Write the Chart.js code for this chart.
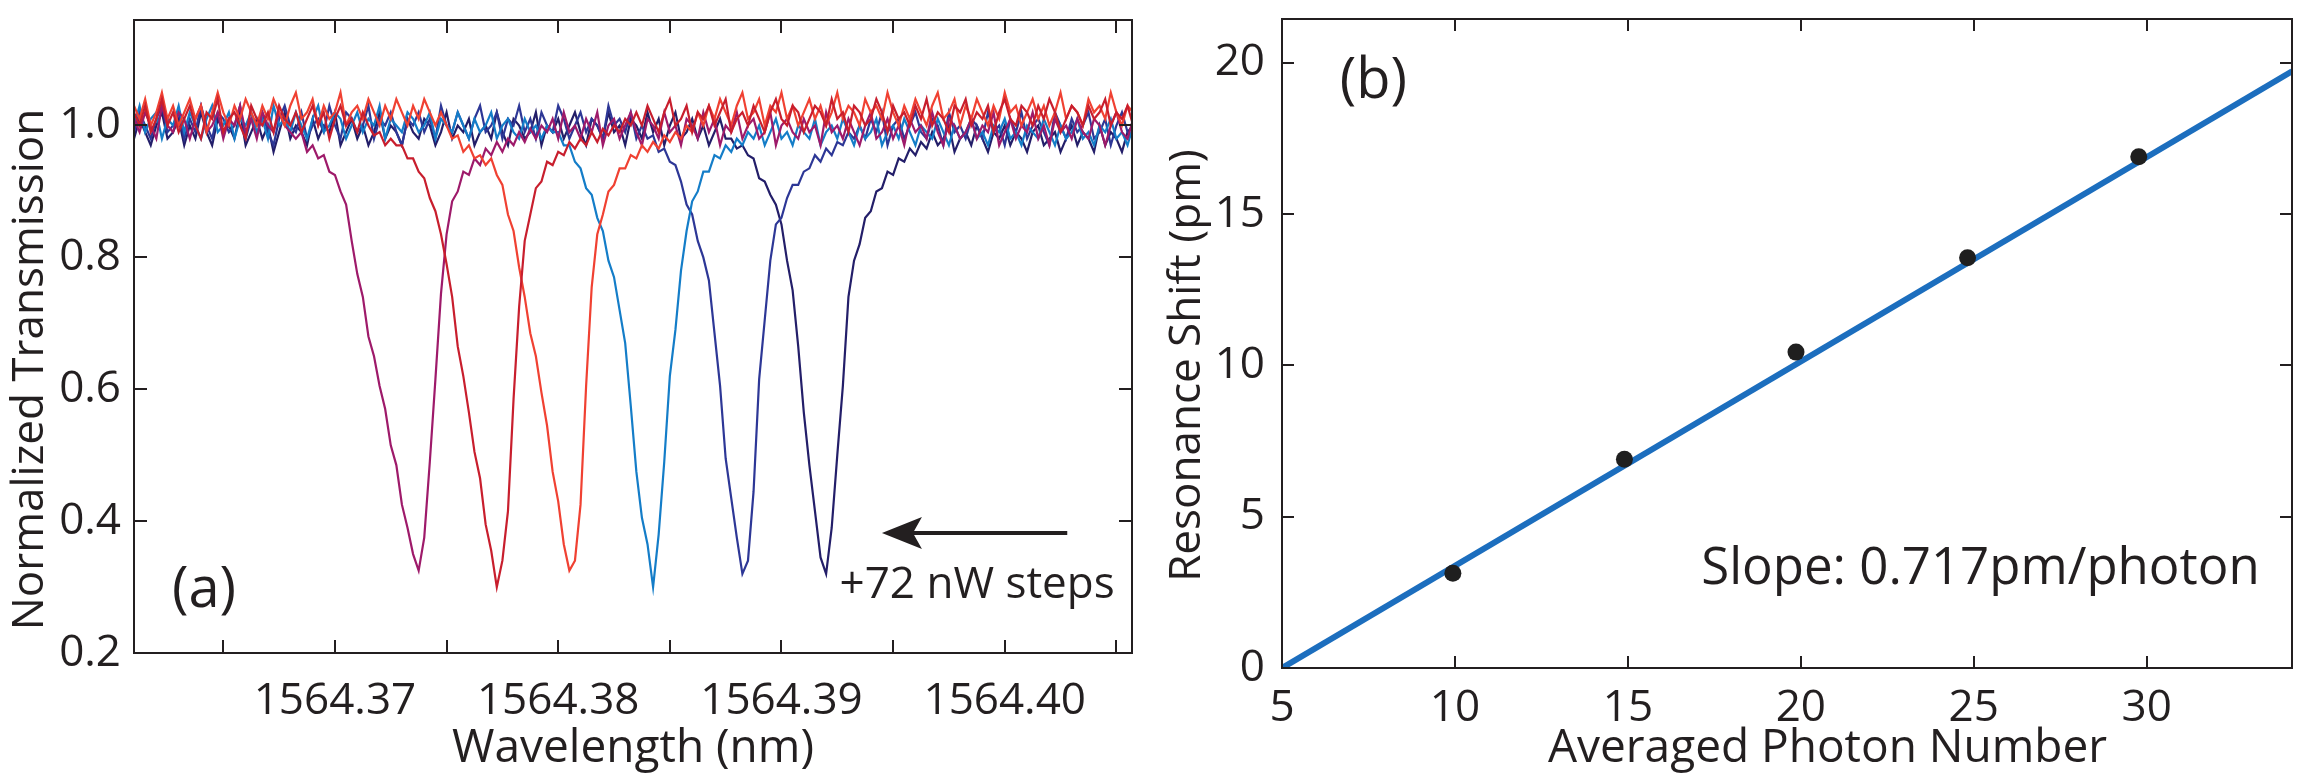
<!DOCTYPE html>
<html>
<head>
<meta charset="utf-8">
<script src="https://cdn.jsdelivr.net/npm/chart.js@4.4.1/dist/chart.umd.min.js"></script>
<style>
html,body{margin:0;padding:0;background:#fff;}
#wrap{position:relative;width:2303px;height:782px;overflow:hidden;}
canvas{position:absolute;top:0;}
#left{left:0;}
#right{left:1160px;}
</style>
</head>
<body>
<div id="wrap">
  <canvas id="left" width="1160" height="782"></canvas>
  <canvas id="right" width="1143" height="782"></canvas>
</div>
<script>
// ---- panel (a): transmission spectra, one trace per pump power step ----
const wavelength = [
  1564.36100,1564.36125,1564.36150,1564.36175,1564.36200,1564.36225,1564.36250,1564.36275,
  1564.36300,1564.36325,1564.36350,1564.36375,1564.36400,1564.36425,1564.36450,1564.36475,
  1564.36500,1564.36525,1564.36550,1564.36575,1564.36600,1564.36625,1564.36650,1564.36675,
  1564.36700,1564.36725,1564.36750,1564.36775,1564.36800,1564.36825,1564.36850,1564.36875,
  1564.36900,1564.36925,1564.36950,1564.36975,1564.37000,1564.37025,1564.37050,1564.37075,
  1564.37100,1564.37125,1564.37150,1564.37175,1564.37200,1564.37225,1564.37250,1564.37275,
  1564.37300,1564.37325,1564.37350,1564.37375,1564.37400,1564.37425,1564.37450,1564.37475,
  1564.37500,1564.37525,1564.37550,1564.37575,1564.37600,1564.37625,1564.37650,1564.37675,
  1564.37700,1564.37725,1564.37750,1564.37775,1564.37800,1564.37825,1564.37850,1564.37875,
  1564.37900,1564.37925,1564.37950,1564.37975,1564.38000,1564.38025,1564.38050,1564.38075,
  1564.38100,1564.38125,1564.38150,1564.38175,1564.38200,1564.38225,1564.38250,1564.38275,
  1564.38300,1564.38325,1564.38350,1564.38375,1564.38400,1564.38425,1564.38450,1564.38475,
  1564.38500,1564.38525,1564.38550,1564.38575,1564.38600,1564.38625,1564.38650,1564.38675,
  1564.38700,1564.38725,1564.38750,1564.38775,1564.38800,1564.38825,1564.38850,1564.38875,
  1564.38900,1564.38925,1564.38950,1564.38975,1564.39000,1564.39025,1564.39050,1564.39075,
  1564.39100,1564.39125,1564.39150,1564.39175,1564.39200,1564.39225,1564.39250,1564.39275,
  1564.39300,1564.39325,1564.39350,1564.39375,1564.39400,1564.39425,1564.39450,1564.39475,
  1564.39500,1564.39525,1564.39550,1564.39575,1564.39600,1564.39625,1564.39650,1564.39675,
  1564.39700,1564.39725,1564.39750,1564.39775,1564.39800,1564.39825,1564.39850,1564.39875,
  1564.39900,1564.39925,1564.39950,1564.39975,1564.40000,1564.40025,1564.40050,1564.40075,
  1564.40100,1564.40125,1564.40150,1564.40175,1564.40200,1564.40225,1564.40250,1564.40275,
  1564.40300,1564.40325,1564.40350,1564.40375,1564.40400,1564.40425,1564.40450,1564.40475,
  1564.40500,1564.40525,1564.40550,1564.40575,1564.40600
];

// step 6 (highest power), dip near 1564.3737
const transMagenta = [
  1.01,0.99,1.02,1.00,0.98,1.03,1.00,0.99,1.02,1.01,
  0.98,1.01,1.03,0.99,1.00,1.02,0.98,1.01,1.00,1.03,
  0.99,1.01,0.98,1.02,1.00,0.99,1.02,1.00,0.99,0.98,
  0.99,0.96,0.97,0.95,0.955,0.93,0.925,0.90,0.88,0.825,
  0.775,0.74,0.68,0.65,0.605,0.57,0.515,0.485,0.425,0.39,
  0.35,0.325,0.375,0.49,0.615,0.745,0.835,0.885,0.90,0.93,
  0.925,0.95,0.94,0.965,0.955,0.975,0.96,0.98,0.97,0.99,
  0.975,0.995,0.98,1.00,0.99,1.01,0.98,1.02,0.99,1.00,
  0.98,1.01,0.99,1.02,0.97,1.00,1.01,0.98,1.00,1.02,
  0.99,0.97,1.01,1.00,0.98,1.02,0.99,1.00,0.97,1.01,
  1.00,0.98,1.02,0.99,1.01,0.97,1.00,0.99,1.02,0.98,
  1.00,1.01,0.98,0.99,1.02,0.97,1.00,1.01,0.99,0.98,
  1.01,0.99,1.00,0.97,1.02,0.99,1.00,0.98,1.01,0.99,
  0.97,1.00,1.02,0.98,0.99,1.01,0.98,1.00,0.97,1.01,
  0.99,1.00,0.98,1.02,0.99,0.97,1.01,1.00,0.98,0.99,
  1.01,0.98,1.00,0.99,1.02,0.97,0.99,1.01,0.98,1.00,
  0.99,1.02,0.98,1.00,0.97,1.01,0.99,1.00,0.98,1.01,
  0.99,0.98,1.01,1.00,0.97,1.00,1.02,0.99,0.98,1.01,1.00
];

// step 5, dip near 1564.3772
const transCrimson = [
  1.02,1.00,1.03,0.99,1.01,1.04,1.00,1.02,0.99,1.01,
  1.03,1.00,0.98,1.02,1.01,1.04,0.99,1.01,1.02,1.00,
  0.98,1.03,1.01,1.00,1.02,0.99,1.03,1.01,1.00,1.02,
  0.99,1.01,1.03,1.00,1.02,0.98,1.01,1.03,1.00,1.01,
  0.99,1.02,1.00,0.985,0.99,0.97,0.98,0.97,0.97,0.95,
  0.95,0.93,0.92,0.89,0.87,0.835,0.79,0.74,0.665,0.62,
  0.565,0.505,0.465,0.395,0.355,0.30,0.34,0.415,0.585,0.725,
  0.825,0.865,0.905,0.915,0.945,0.94,0.96,0.955,0.975,0.965,
  0.98,0.97,0.99,0.975,0.995,0.985,1.00,0.99,1.01,1.00,
  1.02,1.00,1.03,1.01,0.99,1.02,1.04,1.00,1.01,1.03,
  0.99,1.02,1.01,1.03,1.00,1.02,1.04,0.99,1.01,1.02,
  1.00,1.03,1.01,0.99,1.02,1.04,1.01,1.00,1.03,1.02,
  0.99,1.01,1.03,1.02,1.00,1.04,1.01,1.02,0.99,1.03,
  1.02,1.00,1.01,1.04,1.02,0.99,1.03,1.01,1.02,1.00,
  1.03,1.01,1.04,1.00,1.02,1.01,0.99,1.03,1.02,1.04,
  1.00,1.02,1.01,1.03,0.99,1.02,1.04,1.01,1.00,1.03,
  1.02,1.00,1.03,1.01,1.04,1.02,0.99,1.01,1.03,1.02,
  1.00,1.03,1.01,1.02,1.04,1.00,1.02,1.01,1.03,1.00,1.02
];

// step 4, dip near 1564.3806
const transRed = [
  1.03,1.01,1.04,1.00,1.02,1.05,1.01,1.03,1.00,1.02,
  1.04,1.01,1.03,0.99,1.02,1.05,1.02,1.00,1.03,1.01,
  1.04,1.02,1.00,1.03,1.01,1.04,1.02,1.00,1.03,1.05,
  1.01,1.02,1.04,1.00,1.03,1.01,1.02,1.05,1.00,1.02,
  1.03,1.01,1.04,1.02,1.00,1.03,1.01,1.04,1.02,1.00,
  1.03,1.01,1.04,1.02,1.00,1.02,1.00,0.98,0.985,0.96,
  0.97,0.95,0.955,0.94,0.95,0.925,0.91,0.865,0.84,0.785,
  0.74,0.685,0.65,0.595,0.545,0.475,0.43,0.365,0.325,0.34,
  0.425,0.605,0.755,0.835,0.865,0.90,0.91,0.935,0.935,0.955,
  0.95,0.97,0.96,0.975,0.965,0.985,0.975,0.99,0.98,1.00,
  0.99,1.02,1.00,1.03,1.01,1.04,1.02,1.00,1.03,1.05,
  1.01,1.02,1.04,1.00,1.03,1.02,1.05,1.01,1.03,1.00,
  1.02,1.04,1.01,1.03,1.00,1.02,1.05,1.01,1.03,1.02,
  1.00,1.04,1.02,1.03,1.01,1.05,1.02,1.00,1.03,1.01,
  1.04,1.02,1.00,1.03,1.05,1.01,1.02,1.04,1.00,1.03,
  1.01,1.04,1.02,1.00,1.03,1.01,1.05,1.02,1.03,1.00,
  1.02,1.04,1.01,1.03,1.00,1.02,1.05,1.01,1.03,1.02,
  1.00,1.04,1.02,1.03,1.01,1.05,1.02,1.00,1.03,1.02,1.04
];

// step 3, dip near 1564.3843
const transSky = [
  1.00,1.03,0.99,1.01,1.02,0.98,1.01,1.00,1.03,0.99,
  1.02,1.00,0.98,1.01,1.03,0.99,1.00,1.02,0.98,1.01,
  1.00,1.02,0.99,1.01,0.98,1.03,1.00,1.01,0.99,1.02,
  1.00,0.98,1.01,1.03,0.99,1.00,1.02,1.01,0.98,1.00,
  1.02,0.99,1.01,1.00,1.03,0.98,1.01,1.00,0.99,1.02,
  1.01,0.99,1.00,1.02,0.98,1.01,1.00,0.99,1.02,1.00,
  0.98,1.01,0.99,1.00,1.02,0.98,1.00,1.01,0.99,0.98,
  1.01,0.99,1.00,0.98,1.00,0.99,0.99,0.97,0.97,0.945,
  0.935,0.905,0.895,0.86,0.84,0.795,0.77,0.72,0.67,0.575,
  0.475,0.405,0.365,0.30,0.38,0.49,0.62,0.69,0.78,0.84,
  0.885,0.90,0.93,0.93,0.955,0.95,0.97,0.96,0.98,0.97,
  0.99,0.98,1.00,0.97,0.99,1.01,0.98,0.99,0.97,1.00,
  0.99,0.98,1.01,0.97,0.99,1.00,0.98,1.01,0.99,0.97,
  1.00,0.98,0.99,1.01,0.97,0.99,1.00,0.98,1.01,0.99,
  0.97,1.00,0.99,0.98,1.01,0.99,0.97,1.00,0.98,0.99,
  1.01,0.98,0.99,0.97,1.00,0.99,1.01,0.98,0.99,0.97,
  1.00,0.99,0.98,1.01,0.99,0.97,1.00,0.98,0.99,1.01,
  0.98,0.99,0.97,1.00,0.99,1.01,0.98,0.99,0.97,1.00,0.99
];

// step 2, dip near 1564.3883
const transNavy = [
  0.99,1.02,1.00,0.98,1.01,1.03,0.99,1.00,1.02,0.98,
  1.01,0.99,1.03,1.00,0.98,1.02,1.01,0.99,1.00,1.03,
  0.98,1.01,1.00,1.02,0.99,0.97,1.01,1.03,1.00,0.99,
  1.02,0.98,1.00,1.01,0.99,1.03,1.00,0.98,1.02,1.01,
  0.99,1.00,1.03,0.98,1.01,1.00,1.02,0.99,0.97,1.01,
  1.00,1.02,0.99,1.01,0.98,1.03,1.00,0.99,1.02,1.00,
  0.98,1.01,1.03,0.99,1.00,1.02,0.98,1.01,1.00,1.03,
  0.99,1.01,0.98,1.02,1.00,0.99,1.03,1.01,0.98,1.00,
  1.02,0.99,1.01,1.00,0.98,1.03,1.00,1.01,0.99,1.02,
  0.98,1.00,0.98,0.985,0.96,0.965,0.945,0.94,0.915,0.88,
  0.865,0.825,0.80,0.765,0.685,0.605,0.495,0.435,0.375,0.32,
  0.34,0.445,0.615,0.705,0.795,0.85,0.86,0.89,0.91,0.91,
  0.93,0.935,0.955,0.945,0.965,0.955,0.975,0.97,0.99,0.98,
  1.00,0.98,1.01,0.99,1.02,0.97,1.00,1.01,0.98,1.00,
  1.02,0.99,0.98,1.01,1.00,0.97,1.02,0.99,1.00,0.98,
  1.01,1.00,0.98,1.02,0.99,1.00,0.97,1.01,0.99,1.02,
  0.98,1.00,1.01,0.99,0.97,1.02,1.00,0.98,1.01,0.99,
  1.00,1.02,0.98,0.99,1.01,0.97,1.00,1.02,0.99,0.98,1.00
];

// step 1 (lowest power), dip near 1564.3919
const transIndigo = [
  0.98,1.01,0.99,0.97,1.00,1.02,0.98,0.99,1.01,0.97,
  1.00,0.98,1.02,0.99,0.97,1.01,0.99,1.00,0.98,1.02,
  0.97,0.99,1.01,0.98,1.00,0.96,0.99,1.02,0.98,1.00,
  0.99,0.97,1.01,0.98,1.00,0.99,1.02,0.97,0.99,1.01,
  0.98,1.00,0.97,0.99,1.02,0.98,1.00,0.99,0.97,1.01,
  0.99,0.98,1.01,1.00,0.97,0.99,1.02,0.98,1.00,0.99,
  1.01,0.97,0.99,1.00,0.98,1.02,0.99,0.97,1.01,1.00,
  0.98,0.99,1.02,0.97,1.00,0.99,1.01,0.98,1.00,1.02,
  0.99,0.97,1.01,1.00,0.98,1.02,0.99,1.00,0.97,1.01,
  1.00,0.98,1.02,0.99,1.01,0.97,1.00,1.02,0.98,0.99,
  1.01,0.98,1.00,0.97,0.99,1.01,0.98,0.98,0.965,0.97,
  0.955,0.95,0.92,0.915,0.895,0.88,0.85,0.795,0.75,0.665,
  0.565,0.485,0.415,0.345,0.32,0.39,0.50,0.605,0.74,0.795,
  0.82,0.86,0.87,0.90,0.905,0.93,0.925,0.95,0.945,0.965,
  0.955,0.975,0.965,0.99,0.97,0.98,1.00,0.96,0.98,0.99,
  0.97,1.00,0.98,0.96,0.99,0.98,1.00,0.97,0.99,0.98,
  0.96,0.99,1.00,0.97,0.98,0.99,0.96,0.98,1.00,0.97,
  0.99,0.98,0.96,1.00,0.97,0.99,0.98,0.96,0.99,1.00,0.98
];

const wlTicks = [1564.365,1564.370,1564.375,1564.380,1564.385,1564.390,1564.395,1564.400,1564.405];
const wlTickLabels = ['','1564.37','','1564.38','','1564.39','','1564.40',''];
const trTicks = [0.2,0.4,0.6,0.8,1.0];
const trTickLabels = ['0.2','0.4','0.6','0.8','1.0'];

// ---- panel (b): resonance shift vs photon number ----
const photonNumber = [9.94,14.90,19.86,24.82,29.77];
const resonanceShift = [3.13,6.90,10.44,13.56,16.90];
const fitPhoton = [5,34.2];
const fitShift = [0,19.72];
const phTicks = [5,10,15,20,25,30];
const shTicks = [0,5,10,15,20];

const INK = '#231f20';
const FONT = '"Open Sans", sans-serif';
Chart.defaults.font.family = FONT;
Chart.defaults.color = INK;

// MATLAB-style box with inward ticks on all four sides
const boxTicks = {
  id: 'boxTicks',
  afterDatasetsDraw(chart, args, opts) {
    const {ctx, chartArea: a, scales: {x, y}} = chart;
    const len = opts.len || 13;
    ctx.save();
    ctx.strokeStyle = INK;
    ctx.lineWidth = 2;
    ctx.beginPath();
    x.ticks.forEach(t => {
      const px = Math.round(x.getPixelForValue(t.value));
      ctx.moveTo(px, a.bottom); ctx.lineTo(px, a.bottom - len);
      ctx.moveTo(px, a.top); ctx.lineTo(px, a.top + len);
    });
    y.ticks.forEach(t => {
      const py = Math.round(y.getPixelForValue(t.value));
      ctx.moveTo(a.left, py); ctx.lineTo(a.left + len, py);
      ctx.moveTo(a.right, py); ctx.lineTo(a.right - len, py);
    });
    ctx.stroke();
    ctx.strokeRect(a.left, a.top, a.right - a.left, a.bottom - a.top);
    ctx.restore();
  }
};

// text + arrow annotations, placed in data coordinates
const notes = {
  id: 'notes',
  afterDatasetsDraw(chart, args, opts) {
    const {ctx, scales: {x, y}} = chart;
    ctx.save();
    ctx.fillStyle = INK;
    ctx.textBaseline = 'alphabetic';
    ctx.textAlign = 'left';
    (opts.texts || []).forEach(t => {
      ctx.font = t.size + 'px ' + FONT;
      ctx.fillText(t.text, x.getPixelForValue(t.x), y.getPixelForValue(t.y));
    });
    (opts.arrows || []).forEach(ar => {
      const x0 = x.getPixelForValue(ar.from), x1 = x.getPixelForValue(ar.to);
      const py = y.getPixelForValue(ar.y);
      ctx.strokeStyle = INK;
      ctx.lineWidth = 4;
      ctx.beginPath();
      ctx.moveTo(x0, py); ctx.lineTo(x1 + 30, py);
      ctx.stroke();
      ctx.beginPath();
      ctx.moveTo(x1, py);
      ctx.lineTo(x1 + 40, py - 16);
      ctx.lineTo(x1 + 31, py);
      ctx.lineTo(x1 + 40, py + 16);
      ctx.closePath();
      ctx.fill();
    });
    ctx.restore();
  }
};

// y scales: keep the plot box where we put it (no extra room for half tick labels)
const fixY = w => s => { s.width = w; s.paddingTop = 0; s.paddingBottom = 0; };

const toXY = (xs, ys) => ys.map((v, i) => ({x: xs[i], y: v}));
const trace = (data, color) => ({data: toXY(wavelength, data), borderColor: color, borderWidth: 2.2, pointRadius: 0, tension: 0});

new Chart(document.getElementById('left'), {
  type: 'line',
  data: {
    datasets: [
      trace(transCrimson, '#c81e2d'),
      trace(transRed, '#f04132'),
      trace(transMagenta, '#9e1a6a'),
      trace(transSky, '#147dc8'),
      trace(transNavy, '#2d3796'),
      trace(transIndigo, '#231e69')
    ]
  },
  options: {
    responsive: false,
    animation: false,
    devicePixelRatio: 1,
    layout: {padding: {top: 20, right: 28, left: 0, bottom: 0}},
    plugins: {
      legend: {display: false},
      tooltip: {enabled: false},
      boxTicks: {len: 13},
      notes: {
        texts: [
          {text: '(a)', x: 1564.3627, y: 0.27, size: 56},
          {text: '+72 nW steps', x: 1564.3926, y: 0.283, size: 44}
        ],
        arrows: [{from: 1564.4028, to: 1564.3945, y: 0.382}]
      }
    },
    scales: {
      x: {
        type: 'linear', min: 1564.361, max: 1564.4057,
        grid: {display: false, drawTicks: false}, border: {display: false},
        afterBuildTicks: s => { s.ticks = wlTicks.map(v => ({value: v})); },
        afterFit: s => { s.height = 129; },
        ticks: {autoSkip: false, maxRotation: 0, padding: 22, font: {size: 44},
                callback: (v, i) => wlTickLabels[i]},
        title: {display: true, text: 'Wavelength (nm)', font: {size: 46}, padding: {top: 0, bottom: 6}}
      },
      y: {
        type: 'linear', min: 0.2, max: 1.16,
        grid: {display: false, drawTicks: false}, border: {display: false},
        afterBuildTicks: s => { s.ticks = trTicks.map(v => ({value: v})); },
        afterFit: fixY(134),
        ticks: {padding: 13, font: {size: 44}, callback: (v, i) => trTickLabels[i]},
        // trailing en-spaces nudge the centred title down like the original
        title: {display: true, text: 'Normalized Transmission\u2002\u2002\u2002', font: {size: 44}, padding: {top: 4, bottom: 0}}
      }
    }
  },
  plugins: [boxTicks, notes]
});

new Chart(document.getElementById('right'), {
  type: 'scatter',
  data: {
    datasets: [
      {data: toXY(photonNumber, resonanceShift), pointRadius: 8.5, pointBackgroundColor: '#1f1f1f', pointBorderWidth: 0},
      {data: toXY(fitPhoton, fitShift), showLine: true, borderColor: '#1c6ebe', borderWidth: 6, pointRadius: 0}
    ]
  },
  options: {
    responsive: false,
    animation: false,
    devicePixelRatio: 1,
    layout: {padding: {top: 19, right: 11, left: 0, bottom: 0}},
    plugins: {
      legend: {display: false},
      tooltip: {enabled: false},
      boxTicks: {len: 12},
      notes: {
        texts: [
          {text: '(b)', x: 6.67, y: 18.84, size: 56},
          {text: 'Slope: 0.717pm/photon', x: 17.12, y: 2.78, size: 51}
        ]
      }
    },
    scales: {
      x: {
        type: 'linear', min: 5, max: 34.2,
        grid: {display: false, drawTicks: false}, border: {display: false},
        afterBuildTicks: s => { s.ticks = phTicks.map(v => ({value: v})); },
        afterFit: s => { s.height = 114; },
        ticks: {autoSkip: false, maxRotation: 0, padding: 14, font: {size: 44}},
        title: {display: true, text: '\u2002\u2002\u2002 Averaged Photon Number', font: {size: 46}, padding: {top: 0, bottom: 6}}
      },
      y: {
        type: 'linear', min: 0, max: 21.45,
        grid: {display: false, drawTicks: false}, border: {display: false},
        afterBuildTicks: s => { s.ticks = shTicks.map(v => ({value: v})); },
        afterFit: fixY(122),
        ticks: {padding: 17, font: {size: 44}},
        title: {display: true, text: 'Resonance Shift (pm)\u2002\u2002', font: {size: 44}, padding: {top: 1, bottom: 0}}
      }
    }
  },
  plugins: [boxTicks, notes]
});
</script>
</body>
</html>
